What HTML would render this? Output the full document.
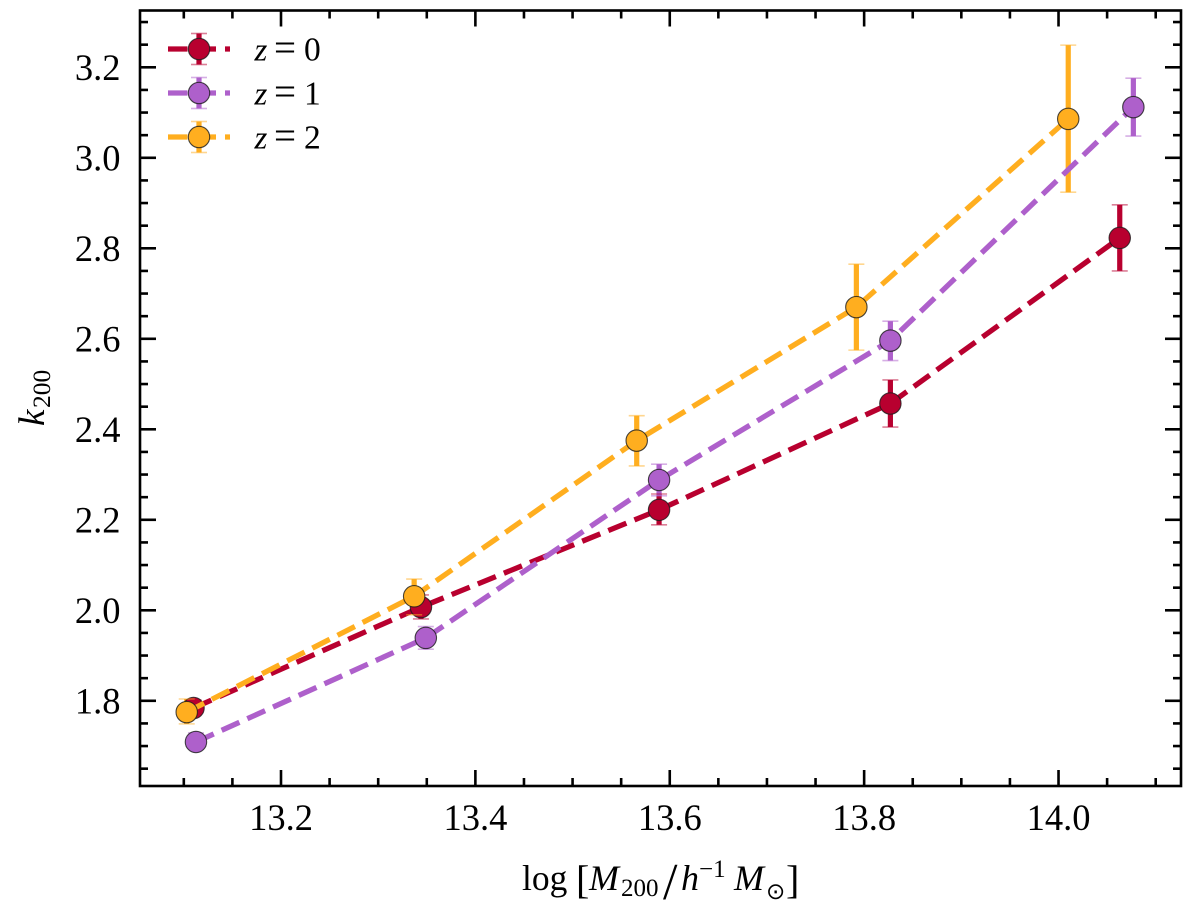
<!DOCTYPE html>
<html><head><meta charset="utf-8"><title>k200 vs halo mass</title>
<style>
html,body{margin:0;padding:0;background:#fff;width:1200px;height:914px;overflow:hidden}
svg{display:block}
text{font-family:"Liberation Serif",serif;fill:#000}
.it{font-style:italic}
</style></head>
<body>
<svg id="chart" width="1200" height="914" viewBox="0 0 1200 914" xmlns="http://www.w3.org/2000/svg">
  <rect x="0" y="0" width="1200" height="914" fill="#fff"/>
  <g id="ticks"></g>
  <g id="bars"></g>
  <g id="series"></g>
  <rect x="140" y="10.5" width="1041" height="775.5" fill="none" stroke="#000" stroke-width="2.6"/>
  <g id="xlabels"></g>
  <g id="ylabels"></g>
  <g>
    <text x="522" y="890" font-size="35.5">log</text>
    <text x="576" y="893" font-size="40">[</text>
    <text class="it" x="589" y="890" font-size="36">M</text>
    <text x="621" y="896" font-size="25">200</text>
    <text x="663" y="899" font-size="52">/</text>
    <text class="it" x="681" y="890" font-size="36">h</text>
    <text x="699" y="877" font-size="25">−1</text>
    <text class="it" x="734" y="890" font-size="36">M</text>
    <text x="766" y="899" font-size="23" style="font-family:'DejaVu Sans',sans-serif">⊙</text>
    <text x="786" y="893" font-size="40">]</text>
  </g>
  <g transform="translate(44,426) rotate(-90)">
    <text class="it" x="0" y="0" font-size="37">k</text>
    <text x="18" y="6" font-size="25.5">200</text>
  </g>
  <g id="legend"></g>
</svg>
<script>
const xTickLabels = ["13.2", "13.4", "13.6", "13.8", "14.0"];
const yTickLabels = ["1.8", "2.0", "2.2", "2.4", "2.6", "2.8", "3.0", "3.2"];
const xMinorStart = 13.1, xMinorEnd = 14.1, xMinorStep = 0.05;
const yMinorStart = 1.65, yMinorEnd = 3.3, yMinorStep = 0.05;

const z0Mass = [13.110, 13.344, 13.589, 13.827, 14.063];
const z0K = [1.784, 2.007, 2.222, 2.457, 2.823];
const z0Low = [1.769, 1.981, 2.189, 2.405, 2.750];
const z0High = [1.802, 2.034, 2.257, 2.509, 2.896];

const z1Mass = [13.1125, 13.349, 13.589, 13.827, 14.077];
const z1K = [1.709, 1.939, 2.288, 2.596, 3.112];
const z1Low = [1.694, 1.914, 2.253, 2.552, 3.048];
const z1High = [1.729, 1.964, 2.323, 2.639, 3.176];

const z2Mass = [13.103, 13.337, 13.566, 13.792, 14.010];
const z2K = [1.775, 2.031, 2.375, 2.670, 3.086];
const z2Low = [1.749, 1.990, 2.319, 2.575, 2.924];
const z2High = [1.804, 2.069, 2.430, 2.765, 3.249];

const seriesNames = ["z-0", "z-1", "z-2"];
const legendValues = ["0", "1", "2"];

const colors = ["#b8002f", "#ae60cb", "#ffae1f"];
const allMass = [z0Mass, z1Mass, z2Mass];
const allK = [z0K, z1K, z2K];
const allLow = [z0Low, z1Low, z2Low];
const allHigh = [z0High, z1High, z2High];

const X = v => 281 + (v - 13.2) * 971.9;
const Y = v => 67.3 + (3.2 - v) * 452.5;
const NS = "http://www.w3.org/2000/svg";

function make(parent, tag, attrs, txt) {
  const el = document.createElementNS(NS, tag);
  for (const k in attrs) el.setAttribute(k, attrs[k]);
  if (txt !== undefined) el.textContent = txt;
  parent.appendChild(el);
  return el;
}

const ticks = document.getElementById("ticks");
const L = 140, R = 1181, T = 10.5, B = 786;

function tickLine(x1, y1, x2, y2) {
  const t = make(ticks, "line", {x1, y1, x2, y2, stroke: "#000", "stroke-width": 2.6});
  
  
}

for (let i = 0, n = Math.round((xMinorEnd - xMinorStart) / xMinorStep); i <= n; i++) {
  const v = xMinorStart + i * xMinorStep;
  const major = i % 4 === 2;
  const len = major ? 16 : 8;
  tickLine(X(v), B, X(v), B - len);
  tickLine(X(v), T, X(v), T + len);
}
for (let i = 0, n = Math.round((yMinorEnd - yMinorStart) / yMinorStep); i <= n; i++) {
  const v = yMinorStart + i * yMinorStep;
  const major = i % 4 === 3;
  const len = major ? 16 : 8;
  tickLine(L, Y(v), L + len, Y(v));
  tickLine(R, Y(v), R - len, Y(v));
}

const xl = document.getElementById("xlabels");
xTickLabels.forEach(s => {
  const t = make(xl, "text", {x: X(parseFloat(s)), y: 830, "font-size": 36.5, "text-anchor": "middle"}, s);
  
  
});
const yl = document.getElementById("ylabels");
yTickLabels.forEach(s => {
  const t = make(yl, "text", {x: 120.5, y: Y(parseFloat(s)) + 12.5, "font-size": 36.5, "text-anchor": "end"}, s);
  
  
});

const bars = document.getElementById("bars");
const seriesG = document.getElementById("series");

function drawCap(parent, cx, cy, color) {
  const c = make(parent, "line", {x1: cx - 8, y1: cy, x2: cx + 8, y2: cy, stroke: color, "stroke-width": 1.6, "stroke-opacity": 0.5});
  
  
}
function drawMarker(parent, cx, cy, color) {
  const m = make(parent, "circle", {cx, cy, r: 10.7, fill: color, stroke: "#1a1a1a", "stroke-opacity": 0.8, "stroke-width": 1.1});
  
  
}

allMass.forEach((xs, s) => {
  xs.forEach((x, i) => {
    const b = make(bars, "line", {x1: X(x), x2: X(x), y1: Y(allLow[s][i]), y2: Y(allHigh[s][i]), stroke: colors[s], "stroke-width": 5.2});
    
    
  });
});

allMass.forEach((xs, s) => {
  const g = make(seriesG, "g", {});
  
  
  const pts = xs.map((x, i) => X(x).toFixed(2) + "," + Y(allK[s][i]).toFixed(2)).join(" ");
  const line = make(g, "polyline", {points: pts, fill: "none", stroke: colors[s], "stroke-width": 5.3, "stroke-dasharray": "19.5 8.7", "stroke-linejoin": "round"});
  
  
  xs.forEach((x, i) => {
    drawCap(g, X(x), Y(allLow[s][i]), colors[s]);
    drawCap(g, X(x), Y(allHigh[s][i]), colors[s]);
  });
  xs.forEach((x, i) => drawMarker(g, X(x), Y(allK[s][i]), colors[s]));
});

const legend = document.getElementById("legend");
legendValues.forEach((val, s) => {
  const cy = 49 + s * 44;
  const g = make(legend, "g", {});
  
  
  const hl = make(g, "line", {x1: 168, x2: 230, y1: cy, y2: cy, stroke: colors[s], "stroke-width": 5.3, "stroke-dasharray": "19.5 9"});
  
  
  const vb = make(g, "line", {x1: 199, x2: 199, y1: cy - 15.5, y2: cy + 15.5, stroke: colors[s], "stroke-width": 5.2});
  
  
  drawCap(g, 199, cy - 15.5, colors[s]);
  drawCap(g, 199, cy + 15.5, colors[s]);
  drawMarker(g, 199, cy, colors[s]);
  const tz = make(g, "text", {x: 254.5, y: cy + 11.5, "font-size": 33, "font-style": "italic"}, "z");
  
  
  const te = make(g, "text", {x: 274, y: cy + 11.5, "font-size": 39}, "=");
  
  
  const tv = make(g, "text", {x: 304, y: cy + 11.5, "font-size": 33.5}, val);
  
  
});
</script>
</body></html>
